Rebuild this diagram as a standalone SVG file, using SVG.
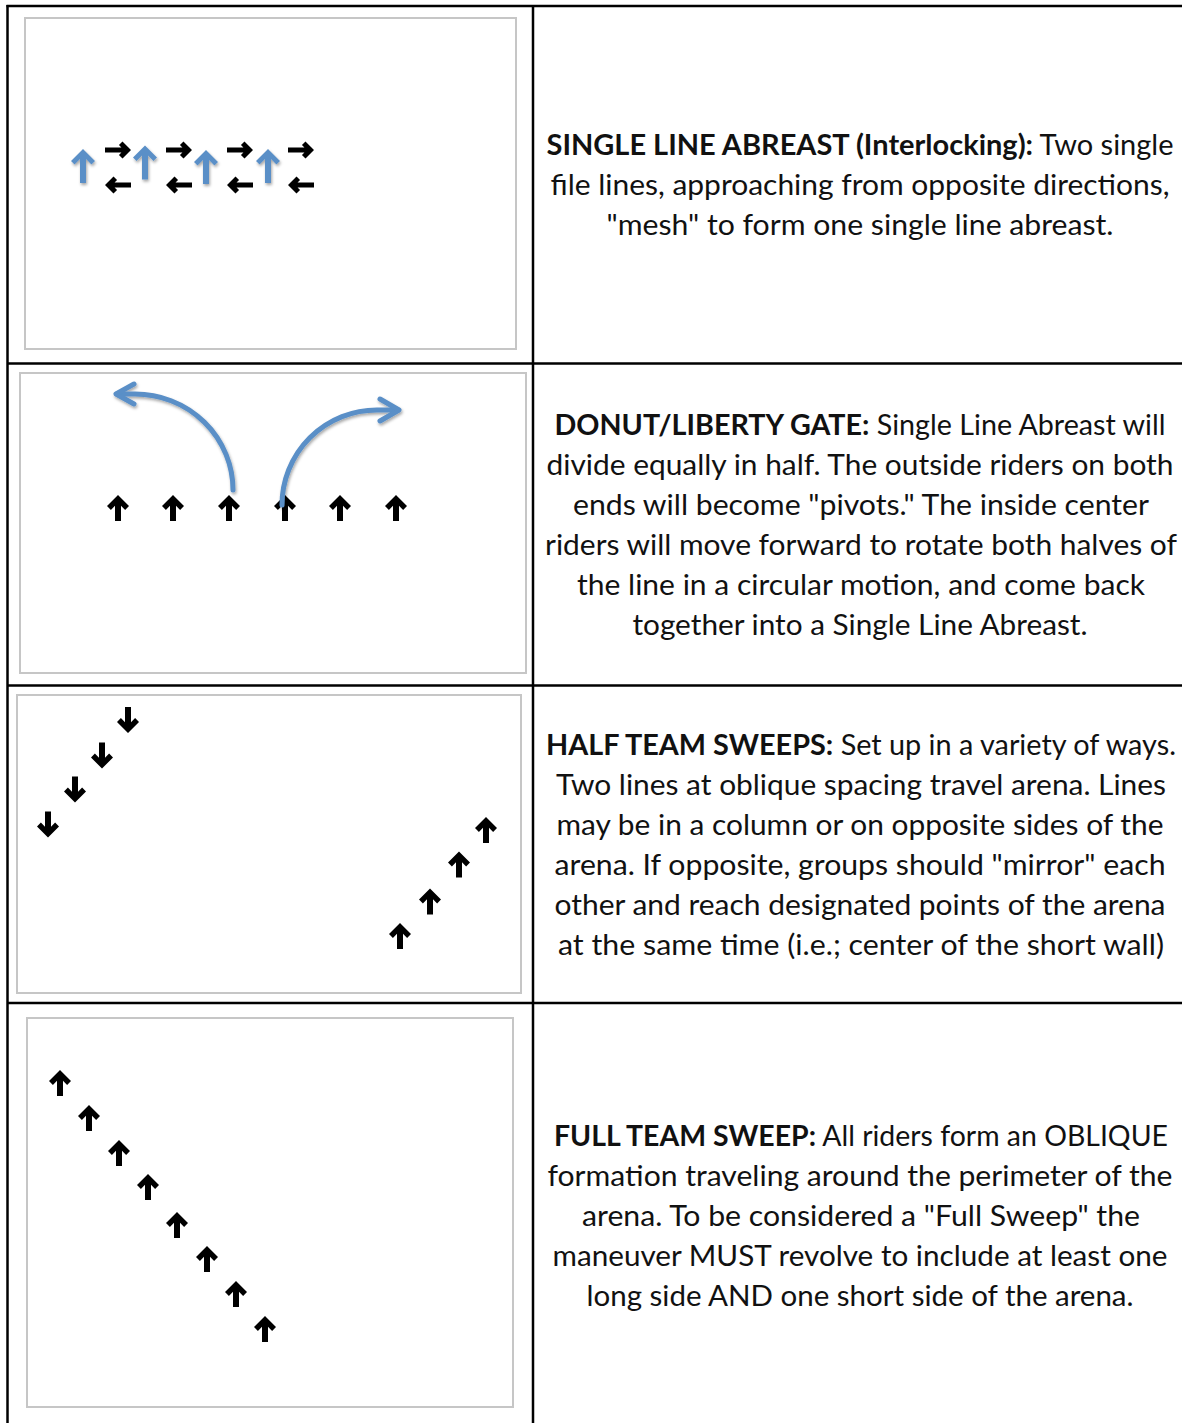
<svg xmlns="http://www.w3.org/2000/svg" xmlns:xlink="http://www.w3.org/1999/xlink" width="1182" height="1423" viewBox="0 0 1182 1423">
  <style>
    .grid { stroke: #000; stroke-width: 2.5; fill: none; }
    .frame { fill: #fff; stroke: #c6c6c6; stroke-width: 2; }
    .desc { font-family: Lato, "Open Sans", "Liberation Sans", sans-serif; font-size: 28px; fill: #111; text-anchor: middle; }
    .desc .b { font-weight: bold; }
    .ink { fill: #000; }
    .blue { fill: #5a8fc7; }
    .curve { fill: none; stroke: #5a8fc7; stroke-width: 5; stroke-linecap: round; stroke-linejoin: round; }
  </style>
  <defs>
    <filter id="soft" x="-30%" y="-30%" width="160%" height="160%">
      <feDropShadow dx="1" dy="2" stdDeviation="1.5" flood-color="#000" flood-opacity="0.35"/>
    </filter>
    <!-- block arrow pointing up, 22 x 26, centred on origin -->
    <path id="up" d="M0,-13 L11,-2 L7.11,1.89 L3,-2.22 L3,13 L-3,13 L-3,-2.22 L-7.11,1.89 L-11,-2 Z"/>
    <!-- block arrow pointing right, 26 x 17 -->
    <path id="right" d="M13,0 L4.5,-8.5 L0.96,-4.96 L3.43,-2.5 L-13,-2.5 L-13,2.5 L3.43,2.5 L0.96,4.96 L4.5,8.5 Z"/>
    <!-- slim blue arrow pointing up, 24 x 34 -->
    <path id="blueUp" d="M0,-17 L12,-5 L8.46,-1.46 L3,-6.93 L3,17 L-3,17 L-3,-6.93 L-8.46,-1.46 L-12,-5 Z"/>
  </defs>

  <rect width="1182" height="1423" fill="#fff"/>

  <!-- table rules -->
  <g id="table">
    <line class="grid" x1="6.5" y1="6" x2="1182" y2="6"/>
    <line class="grid" x1="7.5" y1="5" x2="7.5" y2="1423"/>
    <line class="grid" x1="533" y1="5" x2="533" y2="1423"/>
    <line class="grid" x1="7" y1="363.5" x2="1182" y2="363.5"/>
    <line class="grid" x1="7" y1="685.5" x2="1182" y2="685.5"/>
    <line class="grid" x1="7" y1="1003" x2="1182" y2="1003"/>
  </g>

  <!-- row 1: single line abreast -->
  <g id="single-line-abreast">
    <rect class="frame" x="25" y="18" width="491" height="331"/>
    <g class="ink">
      <use xlink:href="#right" x="118" y="150"/>
      <use xlink:href="#right" x="179" y="150"/>
      <use xlink:href="#right" x="240" y="150"/>
      <use xlink:href="#right" x="301" y="150"/>
      <use xlink:href="#right" transform="translate(118,185) rotate(180)"/>
      <use xlink:href="#right" transform="translate(179,185) rotate(180)"/>
      <use xlink:href="#right" transform="translate(240,185) rotate(180)"/>
      <use xlink:href="#right" transform="translate(301,185) rotate(180)"/>
    </g>
    <g class="blue" filter="url(#soft)">
      <use xlink:href="#blueUp" x="83" y="166"/>
      <use xlink:href="#blueUp" x="145" y="162.5"/>
      <use xlink:href="#blueUp" x="206" y="167"/>
      <use xlink:href="#blueUp" x="268" y="166"/>
    </g>
    <text class="desc" textLength="627" lengthAdjust="spacingAndGlyphs" x="860" y="155"><tspan class="b">SINGLE LINE ABREAST (Interlocking):</tspan> Two single</text>
    <text class="desc" textLength="619" lengthAdjust="spacingAndGlyphs" x="860" y="195">file lines, approaching from opposite directions,</text>
    <text class="desc" textLength="507" lengthAdjust="spacingAndGlyphs" x="860" y="235">"mesh" to form one single line abreast.</text>
  </g>

  <!-- row 2: donut / liberty gate -->
  <g id="donut-liberty-gate">
    <rect class="frame" x="20" y="373" width="506" height="300"/>
    <g class="ink">
      <use xlink:href="#up" x="118" y="508"/>
      <use xlink:href="#up" x="173" y="508"/>
      <use xlink:href="#up" x="229" y="508"/>
      <use xlink:href="#up" x="285" y="508"/>
      <use xlink:href="#up" x="340" y="508"/>
      <use xlink:href="#up" x="396" y="508"/>
    </g>
    <g id="connectors" filter="url(#soft)">
      <path class="curve" d="M233,490 A98,96 0 0 0 135,394 L117,394"/>
      <path class="curve" d="M134,384 L116,394 L134,404"/>
      <path class="curve" d="M282,505 A95,95 0 0 1 377,410 L398,410"/>
      <path class="curve" d="M380,399 L399,410 L380,421"/>
    </g>
    <text class="desc" textLength="611" lengthAdjust="spacingAndGlyphs" x="860" y="435"><tspan class="b">DONUT/LIBERTY GATE:</tspan> Single Line Abreast will</text>
    <text class="desc" textLength="627" lengthAdjust="spacingAndGlyphs" x="860" y="475">divide equally in half. The outside riders on both</text>
    <text class="desc" textLength="576" lengthAdjust="spacingAndGlyphs" x="861" y="515">ends will become "pivots." The inside center</text>
    <text class="desc" textLength="632" lengthAdjust="spacingAndGlyphs" x="861" y="555">riders will move forward to rotate both halves of</text>
    <text class="desc" textLength="568" lengthAdjust="spacingAndGlyphs" x="861" y="595">the line in a circular motion, and come back</text>
    <text class="desc" textLength="455" lengthAdjust="spacingAndGlyphs" x="860" y="635">together into a Single Line Abreast.</text>
  </g>

  <!-- row 3: half team sweeps -->
  <g id="half-team-sweeps">
    <rect class="frame" x="17" y="695" width="504" height="298"/>
    <g class="ink">
      <use xlink:href="#up" transform="translate(128,720) rotate(180)"/>
      <use xlink:href="#up" transform="translate(102,755.5) rotate(180)"/>
      <use xlink:href="#up" transform="translate(75,789.5) rotate(180)"/>
      <use xlink:href="#up" transform="translate(48,824.5) rotate(180)"/>
      <use xlink:href="#up" x="486" y="830"/>
      <use xlink:href="#up" x="459" y="864.5"/>
      <use xlink:href="#up" x="430" y="901.5"/>
      <use xlink:href="#up" x="400" y="936"/>
    </g>
    <text class="desc" textLength="630" lengthAdjust="spacingAndGlyphs" x="861" y="755"><tspan class="b">HALF TEAM SWEEPS:</tspan> Set up in a variety of ways.</text>
    <text class="desc" textLength="610" lengthAdjust="spacingAndGlyphs" x="861" y="795">Two lines at oblique spacing travel arena. Lines</text>
    <text class="desc" textLength="607" lengthAdjust="spacingAndGlyphs" x="860" y="835">may be in a column or on opposite sides of the</text>
    <text class="desc" textLength="611" lengthAdjust="spacingAndGlyphs" x="860" y="875">arena. If opposite, groups should "mirror" each</text>
    <text class="desc" textLength="611" lengthAdjust="spacingAndGlyphs" x="860" y="915">other and reach designated points of the arena</text>
    <text class="desc" textLength="606" lengthAdjust="spacingAndGlyphs" x="861" y="955">at the same time (i.e.; center of the short wall)</text>
  </g>

  <!-- row 4: full team sweep -->
  <g id="full-team-sweep">
    <rect class="frame" x="27" y="1018" width="486" height="389"/>
    <g class="ink">
      <use xlink:href="#up" x="60" y="1083"/>
      <use xlink:href="#up" x="89" y="1118"/>
      <use xlink:href="#up" x="119" y="1153"/>
      <use xlink:href="#up" x="148" y="1187"/>
      <use xlink:href="#up" x="177" y="1225"/>
      <use xlink:href="#up" x="207" y="1259"/>
      <use xlink:href="#up" x="236" y="1294"/>
      <use xlink:href="#up" x="265" y="1329"/>
    </g>
    <text class="desc" textLength="614" lengthAdjust="spacingAndGlyphs" x="861" y="1146"><tspan class="b">FULL TEAM SWEEP:</tspan> All riders form an OBLIQUE</text>
    <text class="desc" textLength="625" lengthAdjust="spacingAndGlyphs" x="860" y="1186">formation traveling around the perimeter of the</text>
    <text class="desc" textLength="558" lengthAdjust="spacingAndGlyphs" x="861" y="1226">arena. To be considered a "Full Sweep" the</text>
    <text class="desc" textLength="615" lengthAdjust="spacingAndGlyphs" x="860" y="1266">maneuver MUST revolve to include at least one</text>
    <text class="desc" textLength="547" lengthAdjust="spacingAndGlyphs" x="860" y="1306">long side AND one short side of the arena.</text>
  </g>
</svg>
